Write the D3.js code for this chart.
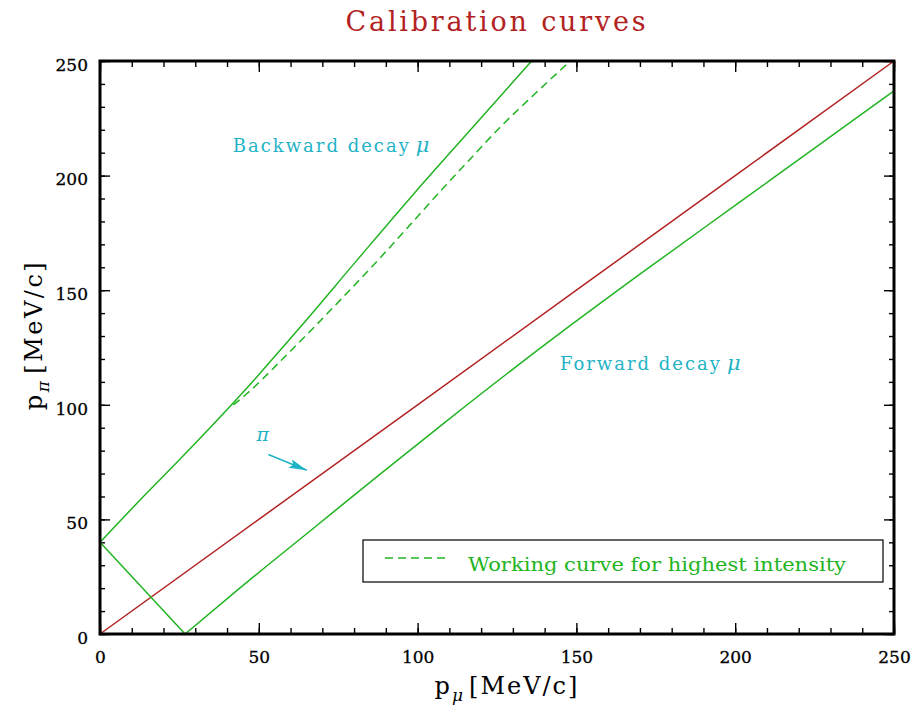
<!DOCTYPE html>
<html>
<head>
<meta charset="utf-8">
<script src="https://cdn.jsdelivr.net/npm/d3@7"></script>
<style>
  body { margin: 0; background: #fff; }
  svg text { font-family: "DejaVu Serif", "Liberation Serif", serif; }
</style>
</head>
<body>
<div id="chart"></div>
<script>
// muon momentum vs pion momentum, MeV/c
var pionMu = [0, 50, 100, 150, 200, 250];
var pionPi = [0, 50, 100, 150, 200, 250];

var forwardMu = [26.8, 44.0, 67.7, 88.4, 109.2, 140.8, 170, 200, 225, 250];
var forwardPi = [0, 20, 46.7, 70, 93, 127, 157, 187, 212, 237];

var backwardMu = [26.8, 0, 13, 25, 44.6, 63, 80.8, 98.7, 117.3, 135.9];
var backwardPi = [0, 40, 59, 76, 104.8, 133.8, 162.9, 191.9, 221, 250];

var workingMu = [42, 46.2, 57, 77.5, 87.4, 96.9, 106.3, 116, 125.9, 136.8, 147.3];
var workingPi = [100, 104.8, 119.3, 148.4, 162.9, 177.4, 191.9, 206.4, 221, 235.5, 249];

var xTicks = [0, 50, 100, 150, 200, 250];
var yTicks = [0, 50, 100, 150, 200, 250];

var width = 915, height = 711;
var margin = { left: 100, right: 21, top: 61, bottom: 77 };

var green = "#22b422", red = "#b22222", cyan = "#1fb3c6";

var svg = d3.select("#chart").append("svg")
    .attr("width", width)
    .attr("height", height);

var x = d3.scaleLinear().domain([0, 250]).range([margin.left, width - margin.right]);
var y = d3.scaleLinear().domain([0, 250]).range([height - margin.bottom, margin.top]);

function zip(a, b) {
    return a.map(function (v, i) { return [v, b[i]]; });
}

//********************** axes **************************
var minor = d3.range(0, 251, 10);

function drawAxis(axisFn, scale, transform, ticks, labels, size, minSize) {
    var g = svg.append("g").attr("transform", transform);
    g.call(axisFn(scale).tickValues(minor).tickSize(-minSize).tickFormat(""));
    g.append("g").call(axisFn(scale).tickValues(ticks).tickSize(-size).tickPadding(14)
        .tickFormat(labels ? d3.format("d") : ""));
    g.selectAll(".domain").remove();
    g.selectAll(".tick line").attr("stroke", "#000").attr("stroke-width", 1.4);
    g.selectAll("text").attr("fill", "#000").style("font-size", "17px")
        .attr("stroke", "#000").attr("stroke-width", 0.3);
    return g;
}

var chartH = height - margin.bottom;
drawAxis(d3.axisBottom, x, "translate(0," + chartH + ")", xTicks, true, 11, 6)
    .selectAll("text").attr("dy", "0.9em");
drawAxis(d3.axisTop, x, "translate(0," + margin.top + ")", xTicks, false, 11, 6);
drawAxis(d3.axisLeft, y, "translate(" + margin.left + ",0)", yTicks, true, 10, 5)
    .selectAll("text").attr("dy", "0.55em").attr("dx", "2");
drawAxis(d3.axisRight, y, "translate(" + (width - margin.right) + ",0)", yTicks, false, 10, 5);

//********************** curves **************************
var line = d3.line()
    .curve(d3.curveMonotoneX)
    .x(function (d) { return x(d[0]); })
    .y(function (d) { return y(d[1]); });

var straight = d3.line()
    .x(function (d) { return x(d[0]); })
    .y(function (d) { return y(d[1]); });

var plot = svg.append("g");

plot.append("path").datum(zip(pionMu, pionPi))
    .attr("d", straight).attr("fill", "none").attr("stroke", red).attr("stroke-width", 1.5);
plot.append("path").datum(zip(forwardMu, forwardPi))
    .attr("d", line).attr("fill", "none").attr("stroke", green).attr("stroke-width", 1.5);
// descending branch + rising backward branch
plot.append("path").datum(zip(backwardMu.slice(0, 2), backwardPi.slice(0, 2)))
    .attr("d", straight).attr("fill", "none").attr("stroke", green).attr("stroke-width", 1.5);
plot.append("path").datum(zip(backwardMu.slice(1), backwardPi.slice(1)))
    .attr("d", line).attr("fill", "none").attr("stroke", green).attr("stroke-width", 1.5);
plot.append("path").datum(zip(workingMu, workingPi))
    .attr("d", line).attr("fill", "none").attr("stroke", green).attr("stroke-width", 1.5)
    .attr("stroke-dasharray", "8,5");

// frame
svg.append("rect")
    .attr("x", margin.left).attr("y", margin.top)
    .attr("width", width - margin.left - margin.right)
    .attr("height", chartH - margin.top)
    .attr("fill", "none").attr("stroke", "#000").attr("stroke-width", 3);

//********************** annotations **************************
function label(txt, px, py) {
    var t = svg.append("text")
        .attr("x", x(px)).attr("y", y(py))
        .attr("fill", cyan)
        .style("font-size", "18px")
        .style("letter-spacing", "2px")
        .text(txt);
    t.append("tspan").attr("dx", 5).style("font-style", "italic").style("font-size", "21px").text("\u03bc");
}
label("Backward decay", 41.8, 210.5);
label("Forward decay", 144.8, 115);

svg.append("text")
    .attr("x", x(49.3)).attr("y", y(84.2))
    .attr("fill", cyan).style("font-size", "19px").style("font-style", "italic")
    .text("\u03c0");

svg.append("defs").append("marker")
    .attr("id", "head")
    .attr("viewBox", "0 0 10 10")
    .attr("refX", 10).attr("refY", 5)
    .attr("markerWidth", 18).attr("markerHeight", 9)
    .attr("markerUnits", "userSpaceOnUse")
    .attr("orient", "auto")
    .attr("preserveAspectRatio", "none")
    .append("path").attr("d", "M0,0L10,5L0,10L2,5z").attr("fill", cyan);

svg.append("line")
    .attr("x1", x(53)).attr("y1", y(78.3))
    .attr("x2", x(65.1)).attr("y2", y(71.4))
    .attr("stroke", cyan).attr("stroke-width", 1.6)
    .attr("marker-end", "url(#head)");

//********************** legend **************************
var leg = svg.append("g").attr("transform", "translate(363,540)");
leg.append("rect").attr("width", 520).attr("height", 42)
    .attr("fill", "#fff").attr("stroke", "#000").attr("stroke-width", 1.2);
leg.append("line").attr("x1", 22).attr("x2", 84).attr("y1", 18).attr("y2", 18)
    .attr("stroke", green).attr("stroke-width", 1.5).attr("stroke-dasharray", "8,5");
leg.append("text").attr("x", 105).attr("y", 31)
    .attr("fill", green).style("font-size", "19px")
    .attr("textLength", 378).attr("lengthAdjust", "spacingAndGlyphs")
    .text("Working curve for highest intensity");

//********************** titles **************************
svg.append("text")
    .attr("x", 497).attr("y", 31)
    .attr("text-anchor", "middle")
    .attr("fill", red)
    .style("font-size", "27px")
    .style("letter-spacing", "2.8px")
    .text("Calibration curves");

var xt = svg.append("text")
    .attr("x", 507).attr("y", 694)
    .attr("text-anchor", "middle")
    .style("font-size", "24px")
    .style("letter-spacing", "2px");
xt.append("tspan").text("p");
xt.append("tspan").attr("dy", 7).style("font-size", "17px").style("font-style", "italic").text("\u03bc");
xt.append("tspan").attr("dy", -7).attr("dx", 4).text("[MeV/c]");

var yt = svg.append("text")
    .attr("transform", "translate(42,335) rotate(-90)")
    .attr("text-anchor", "middle")
    .style("font-size", "24px")
    .style("letter-spacing", "2.5px");
yt.append("tspan").text("p");
yt.append("tspan").attr("dy", 7).style("font-size", "17px").style("font-style", "italic").text("\u03c0");
yt.append("tspan").attr("dy", -7).attr("dx", 5).text("[MeV/c]");
</script>
</body>
</html>
